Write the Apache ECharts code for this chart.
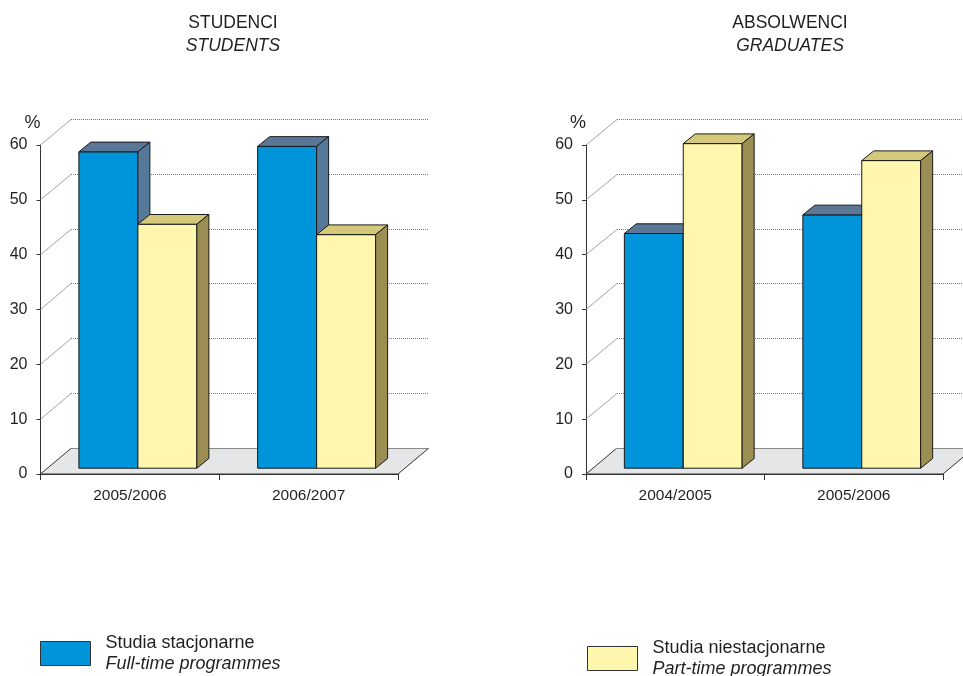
<!DOCTYPE html>
<html>
<head>
<meta charset="utf-8">
<script src="https://cdn.jsdelivr.net/npm/echarts@6/dist/echarts.min.js"></script>
<style>
  html, body { margin: 0; padding: 0; background: #fff; }
  #chart { width: 963px; height: 676px; }
</style>
</head>
<body>
<div id="chart"></div>
<script>
// Shares of full-time and part-time programmes (%)
const studentYears = ['2005/2006', '2006/2007'];
const studentFullTime = [57.7, 58.7];
const studentPartTime = [44.5, 42.6];

const graduateYears = ['2004/2005', '2005/2006'];
const graduateFullTime = [42.8, 46.2];
const graduatePartTime = [59.2, 56.1];

const valueTicks = [0, 10, 20, 30, 40, 50, 60];

const seriesNames = ['Studia stacjonarne', 'Studia niestacjonarne'];
const seriesNamesEn = ['Full-time programmes', 'Part-time programmes'];

// ---- 3D look: oblique offsets in pixels ----
const WALL = { dx: 30.5, dy: -25.6 };   // floor depth / back wall offset
const FRONT = { dx: 8, dy: -5.8 };      // bar front face position inside the floor
const DEPTH = { dx: 12, dy: -9.7 };     // bar depth
const BAR_RATIO = 0.33;                 // bar width as part of a category band
const FONT = "'Liberation Sans', Arial, sans-serif";
const TEXT = '#231f20';

const palette = {
  full: { front: '#0095da', top: '#5a7896', side: '#56799a' },
  part: { front: '#fff7ae', top: '#d4c97b', side: '#9a8e52' }
};

function crisp(v) { return Math.round(v - 0.5) + 0.5; }

function barRenderer(side, colors) {
  return function (params, api) {
    const idx = api.value(0);
    const val = api.value(1);
    const base = api.coord([idx, 0]);
    const top = api.coord([idx, val]);
    const w = api.size([1, 0])[0] * BAR_RATIO;
    const cx = base[0] + FRONT.dx;
    const x0 = side < 0 ? cx - w : cx;
    const x1 = x0 + w;
    const yb = base[1] + FRONT.dy;
    const yt = top[1] + FRONT.dy;
    const stroke = { stroke: '#1a1a1a', lineWidth: 1, lineJoin: 'miter' };
    return {
      type: 'group',
      children: [
        { type: 'polygon', shape: { points: [[x0, yt], [x1, yt], [x1, yb], [x0, yb]] },
          style: Object.assign({ fill: colors.front }, stroke) },
        { type: 'polygon', shape: { points: [[x0, yt], [x1, yt], [x1 + DEPTH.dx, yt + DEPTH.dy], [x0 + DEPTH.dx, yt + DEPTH.dy]] },
          style: Object.assign({ fill: colors.top }, stroke) },
        { type: 'polygon', shape: { points: [[x1, yt], [x1 + DEPTH.dx, yt + DEPTH.dy], [x1 + DEPTH.dx, yb + DEPTH.dy], [x1, yb]] },
          style: Object.assign({ fill: colors.side }, stroke) }
      ]
    };
  };
}

// floor, side-wall connectors and dotted back-wall gridlines
function frameRenderer(params, api) {
  const v = api.value(1);
  const cs = params.coordSys;
  const xl = cs.x;
  const xr = cs.x + cs.width;
  const y = api.coord([0, v])[1];
  if (v === 0) {
    return {
      type: 'group',
      children: [
        { type: 'polygon',
          shape: { points: [[xl, y], [xr, y], [xr + WALL.dx, y + WALL.dy], [xl + WALL.dx, y + WALL.dy]] },
          style: { fill: '#e5e6e8', stroke: null } },
        { type: 'line', shape: { x1: xl + WALL.dx, y1: crisp(y + WALL.dy), x2: xr + WALL.dx, y2: crisp(y + WALL.dy) },
          style: { stroke: '#8a8a8a', lineWidth: 1 } },
        { type: 'line', shape: { x1: xl, y1: y, x2: xl + WALL.dx, y2: y + WALL.dy },
          style: { stroke: '#333', lineWidth: 1 } },
        { type: 'line', shape: { x1: xr, y1: y, x2: xr + WALL.dx, y2: y + WALL.dy },
          style: { stroke: '#333', lineWidth: 1 } },
        { type: 'line', shape: { x1: xl, y1: y, x2: xr, y2: y },
          style: { stroke: '#333', lineWidth: 1 } }
      ]
    };
  }
  const yb = crisp(y + WALL.dy);
  const xs = Math.round(xl + WALL.dx);
  return {
    type: 'group',
    children: [
      { type: 'line', shape: { x1: xl, y1: y, x2: xs, y2: yb },
        style: { stroke: '#8c8c8c', lineWidth: 0.8 } },
      { type: 'line', shape: { x1: xs, y1: yb, x2: Math.round(xr + WALL.dx), y2: yb },
        style: { stroke: '#7a7a7a', lineWidth: 1, lineDash: [1, 1] } }
    ]
  };
}

function makeAxes(gridIndex, cats) {
  const x = {
    type: 'category', gridIndex: gridIndex, data: cats, boundaryGap: true,
    axisLine: { lineStyle: { color: '#333', width: 1 } },
    axisTick: { show: true, length: 6, alignWithLabel: false, lineStyle: { color: '#333' } },
    axisLabel: { color: TEXT, fontFamily: FONT, fontSize: 15.5, margin: 14 },
    splitLine: { show: false }
  };
  const y = {
    type: 'value', gridIndex: gridIndex, min: 0, max: 60, interval: 10,
    name: '%', nameLocation: 'end', nameGap: 13,
    nameTextStyle: { color: TEXT, fontFamily: FONT, fontSize: 18, align: 'right' },
    axisLine: { show: true, lineStyle: { color: '#333', width: 1 } },
    axisTick: { show: true, length: 4, lineStyle: { color: '#333' } },
    axisLabel: { color: TEXT, fontFamily: FONT, fontSize: 16, margin: 13 },
    splitLine: { show: false }
  };
  return [x, y];
}

const left = makeAxes(0, studentYears);
const right = makeAxes(1, graduateYears);

function pairs(arr) { return arr.map((v, i) => [i, v]); }

function barSeries(name, gridIdx, values, side, colors) {
  return {
    type: 'custom', name: name, xAxisIndex: gridIdx, yAxisIndex: gridIdx,
    z: 3, itemStyle: { color: colors.front },
    encode: { x: 0, y: 1 },
    data: pairs(values),
    renderItem: barRenderer(side, colors)
  };
}

function frameSeries(gridIdx) {
  return {
    type: 'custom', xAxisIndex: gridIdx, yAxisIndex: gridIdx, z: 1, silent: true,
    encode: { x: 0, y: 1 },
    data: valueTicks.map(v => [0, v]),
    renderItem: frameRenderer
  };
}

function legendFor(idx, leftPos, topPos, color) {
  return {
    left: leftPos, top: topPos, padding: 0, orient: 'vertical',
    itemWidth: 50, itemHeight: 24, selectedMode: false,
    data: [{ name: seriesNames[idx], icon: 'rect',
             itemStyle: { color: color, borderColor: '#333', borderWidth: 1 } }],
    formatter: n => '{a|' + n + '}\n{b|' + seriesNamesEn[idx] + '}',
    textStyle: {
      padding: [0, 0, 0, 10],
      rich: {
        a: { fontFamily: FONT, fontSize: 18, lineHeight: 21, color: TEXT },
        b: { fontFamily: FONT, fontSize: 18, lineHeight: 21, color: TEXT, fontStyle: 'italic' }
      }
    }
  };
}

function titleFor(main, sub, cx) {
  return {
    text: main, subtext: sub, left: cx, top: 14, padding: 0, textAlign: 'center', itemGap: 5,
    textStyle: { fontFamily: FONT, fontSize: 17.5, fontWeight: 'normal', color: TEXT },
    subtextStyle: { fontFamily: FONT, fontSize: 17.5, fontStyle: 'italic', color: TEXT }
  };
}

const chart = echarts.init(document.getElementById('chart'), null, { renderer: 'canvas' });
chart.setOption({
  backgroundColor: '#ffffff',
  animation: false,
  title: [
    titleFor('STUDENCI', 'STUDENTS', 233),
    titleFor('ABSOLWENCI', 'GRADUATES', 790)
  ],
  legend: [
    legendFor(0, 40, 634, palette.full.front),
    legendFor(1, 587, 639, palette.part.front)
  ],
  grid: [
    { left: 40.5, top: 145, width: 357.5, height: 329 },
    { left: 586, top: 145, width: 357, height: 329 }
  ],
  xAxis: [left[0], right[0]],
  yAxis: [left[1], right[1]],
  series: [
    frameSeries(0),
    frameSeries(1),
    barSeries(seriesNames[0], 0, studentFullTime, -1, palette.full),
    barSeries(seriesNames[1], 0, studentPartTime, 1, palette.part),
    barSeries(seriesNames[0], 1, graduateFullTime, -1, palette.full),
    barSeries(seriesNames[1], 1, graduatePartTime, 1, palette.part)
  ]
});
</script>
</body>
</html>
